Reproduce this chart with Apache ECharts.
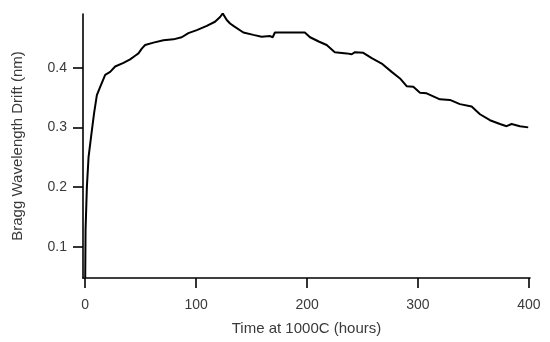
<!DOCTYPE html>
<html>
<head>
<meta charset="utf-8">
<script src="https://cdn.jsdelivr.net/npm/echarts@6/dist/echarts.min.js"></script>
<style>
html,body{margin:0;padding:0;background:#fff;}
#chart{width:550px;height:342px;}
</style>
</head>
<body>
<div id="chart"></div>
<script>
var hours = [0, 0.3, 1.0, 1.5, 3, 6, 8, 10.5, 13.5, 18, 22.5, 27, 34.5, 40.5, 45, 48, 51, 54, 61.5, 70.5, 79.5, 87, 93, 100.6, 109.6, 117, 121.6, 124, 127.6, 130.6, 133.6, 142.6, 151.6, 159, 166.7, 169, 171, 178.6, 187.7, 198, 202.7, 211, 217.7, 225, 235.8, 240.3, 243.2, 250.7, 258.3, 267.3, 276.3, 283.8, 289.8, 295.8, 301.8, 307.8, 319.8, 328.8, 337.8, 348.4, 355.9, 364.9, 373.9, 379.9, 384.4, 391.9, 399.4];
var drift = [0.048, 0.128, 0.17, 0.2, 0.25, 0.295, 0.324, 0.354, 0.368, 0.388, 0.393, 0.402, 0.408, 0.414, 0.42, 0.424, 0.432, 0.438, 0.442, 0.446, 0.4475, 0.451, 0.458, 0.463, 0.47, 0.477, 0.485, 0.491, 0.48, 0.474, 0.47, 0.459, 0.455, 0.452, 0.453, 0.451, 0.459, 0.459, 0.459, 0.459, 0.451, 0.4435, 0.438, 0.426, 0.424, 0.4225, 0.426, 0.425, 0.416, 0.407, 0.393, 0.382, 0.369, 0.368, 0.358, 0.357, 0.347, 0.346, 0.339, 0.335, 0.322, 0.312, 0.3057, 0.302, 0.3057, 0.302, 0.300];
var xTicks = [0, 100, 200, 300, 400];
var yTicks = [0.1, 0.2, 0.3, 0.4];
var xTitle = 'Time at 1000C (hours)';
var yTitle = 'Bragg Wavelength Drift (nm)';

var points = hours.map(function (h, i) { return [h, drift[i]]; });
var font = 'Liberation Sans, Arial, sans-serif';
var chart = echarts.init(document.getElementById('chart'), null, {renderer: 'canvas'});
chart.setOption({
  animation: false,
  backgroundColor: '#fff',
  grid: {left: 83, right: 20, top: 14, bottom: 64, containLabel: false},
  xAxis: {
    type: 'value', min: -2, max: 401,
    name: xTitle, nameLocation: 'middle', nameGap: 43,
    nameTextStyle: {fontFamily: font, fontSize: 15, color: '#3a3a3a'},
    axisLine: {show: true, onZero: false, lineStyle: {color: '#000', width: 1.6}},
    axisTick: {show: true, length: 10, customValues: xTicks, lineStyle: {color: '#000', width: 1.6}},
    axisLabel: {customValues: xTicks, margin: 20, fontFamily: font, fontSize: 14, color: '#3a3a3a'},
    splitLine: {show: false}
  },
  yAxis: {
    type: 'value', min: 0.0476, max: 0.49,
    name: yTitle, nameLocation: 'middle', nameGap: 58, nameRotate: 90,
    nameTextStyle: {fontFamily: font, fontSize: 15, color: '#3a3a3a'},
    axisLine: {show: true, onZero: false, lineStyle: {color: '#000', width: 1.6}},
    axisTick: {show: true, length: 10, customValues: yTicks, lineStyle: {color: '#000', width: 1.6}},
    axisLabel: {customValues: yTicks, margin: 16, fontFamily: font, fontSize: 14, color: '#3a3a3a',
      formatter: function (v) { return v.toFixed(1); }},
    splitLine: {show: false}
  },
  series: [{
    type: 'line', data: points, showSymbol: false, symbol: 'none',
    lineStyle: {color: '#000', width: 2}
  }]
});
</script>
</body>
</html>
